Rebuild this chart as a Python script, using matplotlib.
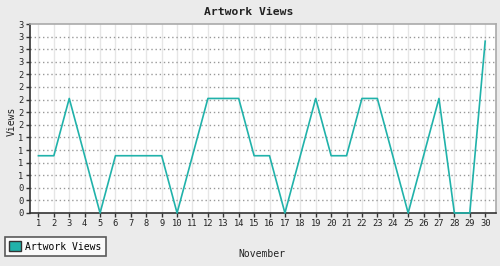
import matplotlib
matplotlib.use("Agg")
import matplotlib.pyplot as plt
import numpy as np
from matplotlib.patches import Patch

days = list(range(1, 31))
views = [1, 1, 2, 1, 0, 1, 1, 1, 1, 0, 1, 2, 2, 2, 1, 1, 0, 1, 2, 1, 1, 2, 2, 1, 0, 1, 2, 0, 0, 3]
y_ticks = np.linspace(0, 3.3, 16)
y_labels = [str(int(np.floor(v + 0.5))) for v in y_ticks]
title = "Artwork Views"
series_name = "Artwork Views"
x_label = "November"
y_label = "Views"

plt.rcParams['font.family'] = ['DejaVu Sans Mono']
W, H = 500, 266
fig = plt.figure(figsize=(W / 100, H / 100), dpi=100, facecolor='#ebebeb')
ax = fig.add_axes([29.5 / W, 1 - 213 / H, (495.5 - 29.5) / W, (213 - 24) / H])
ax.set_facecolor('white')

color = '#20b2aa'
ax.plot(days, views, color=color, lw=1.2, zorder=3, clip_on=False)

ax.set_xlim(0.42, 30.67)
ax.set_ylim(0, 3.3)
ax.set_xticks(days)
ax.set_xticklabels([str(d) for d in days], fontsize=6.3, color='#222222')
ax.set_yticks(y_ticks)
ax.set_yticklabels(y_labels, fontsize=6.3, color='#222222')
ax.tick_params(axis='both', length=3, width=1, color='#333333', pad=1.5)

for x in days:
    ax.axvline(x, color='#e6e6e6', lw=1, zorder=1)
for y in y_ticks[1:-1]:
    ax.axhline(y, color='#999999', lw=1, ls=(0, (1, 2)), zorder=1)

for s in ['left', 'bottom']:
    ax.spines[s].set_color('#333333')
    ax.spines[s].set_linewidth(1.2)
for s in ['top', 'right']:
    ax.spines[s].set_color('#aaaaaa')
    ax.spines[s].set_linewidth(1.2)

fig.text(249 / W, 1 - 12 / H, title, ha='center', va='center', fontsize=8.2, fontweight='bold', color='#222222')
fig.text(12 / W, 1 - 121 / H, y_label, ha='center', va='center', rotation=90, fontsize=7, color='#222222')
fig.text(261.5 / W, 1 - 254 / H, x_label, ha='center', va='center', fontsize=7, color='#222222')

leg = fig.legend(handles=[Patch(facecolor=color, edgecolor='#333333', label=series_name)],
                 loc='lower left', bbox_to_anchor=(5 / W, 1 - 256 / H), fontsize=7,
                 frameon=True, fancybox=False, borderpad=0.45, handlelength=1.2, handleheight=1.2,
                 handletextpad=0.45, borderaxespad=0)
leg.get_frame().set_edgecolor('#333333')
leg.get_frame().set_linewidth(1.2)

fig.savefig('out.png', dpi=100, facecolor=fig.get_facecolor())
